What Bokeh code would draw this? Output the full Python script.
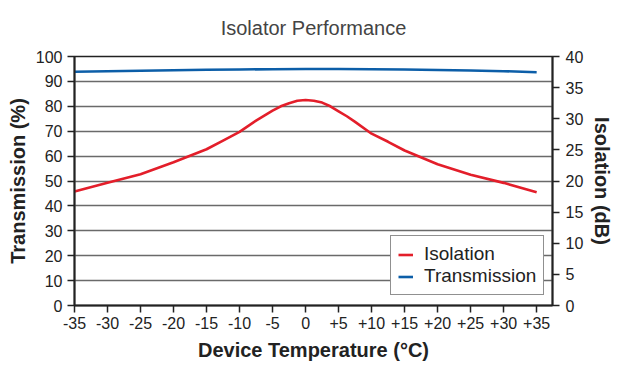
from bokeh.plotting import figure
from bokeh.models import Range1d, LinearAxis, FixedTicker, Legend, LegendItem
from bokeh.embed import file_html
from bokeh.resources import INLINE

# ---- data ----
iso_temp = [-35, -30, -25, -20, -15, -12.5, -10, -7.5, -6.25, -5, -3.75, -2.5, -1.25, 0,
            1.25, 2.5, 3.75, 5, 6.25, 7.5, 10, 12.5, 15, 20, 25, 30, 35]
isolation_db = [18.3, 19.7, 21.1, 23.0, 25.1, 26.5, 27.9, 29.7, 30.5, 31.3, 32.0, 32.5, 32.9, 33.0,
                32.9, 32.6, 32.0, 31.2, 30.4, 29.5, 27.6, 26.3, 24.9, 22.7, 21.0, 19.7, 18.2]
tr_temp = [-35, -30, -25, -20, -15, -10, -5, 0, 5, 10, 15, 20, 25, 30, 35]
transmission_pct = [93.9, 94.1, 94.3, 94.5, 94.7, 94.8, 94.9, 95.0, 95.0, 94.9, 94.8, 94.6, 94.4, 94.1, 93.7]
x_ticks = [-35, -30, -25, -20, -15, -10, -5, 0, 5, 10, 15, 20, 25, 30, 35]
x_tick_labels = ["-35", "-30", "-25", "-20", "-15", "-10", "-5", "0",
                 "+5", "+10", "+15", "+20", "+25", "+30", "+35"]
left_ticks = [0, 10, 20, 30, 40, 50, 60, 70, 80, 90, 100]
right_ticks = [0, 5, 10, 15, 20, 25, 30, 35, 40]
title_text = "Isolator Performance"

FONT = "Liberation Sans"
TXT = "#222222"
RED = "#e31e2a"
BLUE = "#0c5ea8"

p = figure(width=618, height=364, output_backend="svg", toolbar_location=None,
           x_range=Range1d(-35, 37.4), y_range=Range1d(0, 100),
           min_border_left=74, min_border_right=66, min_border_top=56, min_border_bottom=59)
p.extra_y_ranges = {"iso": Range1d(0, 40)}

p.title.text = title_text
p.title.align = "center"
p.title.vertical_align = "top"
p.title.text_font = FONT
p.title.text_font_size = "20px"
p.title.text_font_style = "normal"
p.title.text_color = "#444444"
p.title.standoff = 32

p.outline_line_color = TXT
p.outline_line_width = 1.5
p.background_fill_color = "white"
p.border_fill_color = "white"

p.xgrid.visible = False
p.ygrid.ticker = FixedTicker(ticks=left_ticks)
p.ygrid.grid_line_color = "#6a6a6a"
p.ygrid.grid_line_width = 1.5

right_axis = LinearAxis(y_range_name="iso", ticker=FixedTicker(ticks=right_ticks),
                        axis_label="Isolation (dB)")
p.add_layout(right_axis, "right")

p.xaxis.ticker = FixedTicker(ticks=x_ticks)
p.xaxis.major_label_overrides = {t: l for t, l in zip(x_ticks, x_tick_labels)}
p.xaxis.axis_label = "Device Temperature (°C)"
p.yaxis[0].ticker = FixedTicker(ticks=left_ticks)
p.yaxis[0].axis_label = "Transmission (%)"

for ax in p.xaxis + p.yaxis:
    ax.axis_line_color = TXT
    ax.axis_line_width = 2
    ax.major_tick_line_color = TXT
    ax.major_tick_line_width = 1.5
    ax.major_tick_out = 7
    ax.major_tick_in = 0
    ax.minor_tick_line_color = None
    ax.major_label_text_font = FONT
    ax.major_label_text_font_size = "16px"
    ax.major_label_text_color = TXT
    ax.major_label_standoff = 5
    ax.axis_label_text_font = FONT
    ax.axis_label_text_font_size = "20px"
    ax.axis_label_text_font_style = "bold"
    ax.axis_label_text_color = TXT
    ax.axis_label_standoff = 4
p.xaxis.axis_label_standoff = 7
p.xaxis.major_label_standoff = 4
right_axis.major_label_standoff = 6
right_axis.axis_label_standoff = 5

r_iso = p.line(iso_temp, isolation_db, y_range_name="iso", line_color=RED, line_width=2.6,
               line_join="round")
r_tr = p.line(tr_temp, transmission_pct, line_color=BLUE, line_width=2.6, line_join="round")

legend = Legend(items=[LegendItem(label="Isolation", renderers=[r_iso]),
                       LegendItem(label="Transmission", renderers=[r_tr])],
                location=(316, 10))
legend.label_text_font = FONT
legend.label_text_font_size = "19px"
legend.label_text_color = TXT
legend.border_line_color = TXT
legend.border_line_width = 1.5
legend.background_fill_color = "white"
legend.background_fill_alpha = 1
legend.padding = 7
legend.spacing = -4
legend.label_height = 21
legend.glyph_height = 21
legend.glyph_width = 15
legend.label_standoff = 11
legend.margin = 0
p.add_layout(legend, "center")

open("out.html", "w").write(file_html(p, INLINE))
